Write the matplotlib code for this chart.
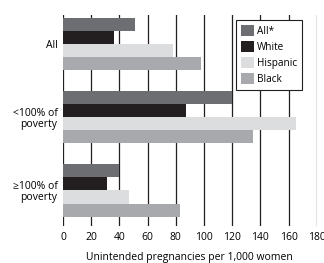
import numpy as np
import matplotlib
matplotlib.use("Agg")
import matplotlib.pyplot as plt

# Data
groups = ["All", "<100% of\npoverty", "\u2265100% of\npoverty"]
series = ["All*", "White", "Hispanic", "Black"]
allWomen = [51, 120, 40]
white = [36, 87, 31.5]
hispanic = [78, 165, 47]
black = [98, 135, 83]
xticks = list(range(0, 181, 20))

colors = ["#6d6e71", "#231f20", "#dcddde", "#a7a9ac"]

plt.rcParams['font.family'] = ['Open Sans', 'DejaVu Sans']

fig = plt.figure(figsize=(3.24, 2.63), dpi=100)
ax = fig.add_axes([0.1944, 0.1407, 0.9775 - 0.1944, 0.943 - 0.1407])

barHeight = 0.179
y = np.arange(len(groups))
for j, (name, vals) in enumerate(zip(series, [allWomen, white, hispanic, black])):
    ax.barh(y + (j - 1.5) * barHeight, vals, height=barHeight,
            color=colors[j], label=name, zorder=3, linewidth=0)

ax.set_xlim(0, 180)
ax.set_ylim(2 + 0.358 + 0.127, -0.358 - 0.037)
ax.set_xticks(xticks)
ax.set_xticklabels([str(t) for t in xticks], fontsize=7.5)
ax.set_yticks(y)
ax.set_yticklabels(groups, fontsize=7.5, ha="right", linespacing=1.0)
ax.tick_params(axis="both", length=0, pad=4)
ax.xaxis.grid(True, color="#231f20", linewidth=0.9, zorder=0)
for s in ax.spines.values():
    s.set_visible(False)

ax.set_xlabel("Unintended pregnancies per 1,000 women", fontsize=7.5, labelpad=7)

leg = ax.legend(loc="upper right", bbox_to_anchor=(0.941, 0.975), fontsize=7.2,
                handlelength=1.35, handleheight=1.35, labelspacing=0.42,
                handletextpad=0.3, borderpad=0.45, borderaxespad=0.0,
                fancybox=False, framealpha=1)
leg.get_frame().set_edgecolor("#231f20")
leg.get_frame().set_linewidth(0.8)
leg.set_zorder(5)

fig.savefig("out.png", dpi=100)
